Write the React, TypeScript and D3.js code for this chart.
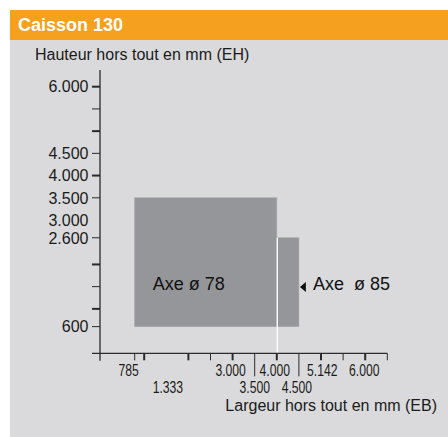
import React from "react";
import * as d3 from "d3";

const title = "Caisson 130";
const yAxisTitle = "Hauteur hors tout en mm (EH)";
const xAxisTitle = "Largeur hors tout en mm (EB)";

const zoneNames = ["Axe ø 78", "Axe  ø 85"];
const zoneXStart = [785, 4000];
const zoneXEnd = [4000, 4500];
const zoneYStart = [600, 600];
const zoneYEnd = [3500, 2600];

const yMajorTicks = [1000, 2000, 4000, 5000, 6000];
const yMinorTicks = [600, 1500, 2600, 3500, 4500, 5500];
const yTickLabels = [6000, 4500, 4000, 3500, 3000, 2600, 600];

const xMajorTicks = [1000, 2000, 3000, 4000, 5000, 6000];
const xMinorTicks = [785, 2500, 5500, 6500];
const xLongTicks = [3500, 4500];
const xLabelsRow1 = [785, 3000, 4000, 5142, 6000];
const xLabelsRow2 = [1333, 3500, 4500];

const fmt = (v: number) => (v >= 1000 ? d3.format(",")(v).replace(",", ".") : String(v));

export default function App() {
  const W = 448, H = 437;
  const x = d3.scaleLinear().domain([0, 6500]).range([100, 387.3]);
  const y = d3.scaleLinear().domain([0, 6000]).range([353.3, 86.7]);
  const axisColor = "#2a2a2a";
  const font = "'Liberation Sans', Arial, Helvetica, sans-serif";
  const labelDx: Record<number, number> = { 785: -6, 1333: 9, 3000: -2, 4000: -2, 5142: -5, 6000: -1, 3500: 0, 4500: -2 };

  const xLabel = (v: number, baseline: number) => {
    const cx = x(v) + (labelDx[v] ?? 0);
    return (
      <g key={`xl${v}-${baseline}`} transform={`translate(${cx},${baseline}) scale(0.76,1)`}>
        <text textAnchor="middle" fontSize={16} fill="#1a1a1a" fontFamily={font}>{fmt(v)}</text>
      </g>
    );
  };

  return (
    <svg width={W} height={H} style={{ position: "absolute", left: 0, top: 0 }}>
      <rect x={0} y={0} width={W} height={H} fill="#ffffff" />
      <rect x={10} y={10} width={W - 10} height={30} fill="#F5A01E" />
      <rect x={10} y={40} width={W - 10} height={H - 40} fill="#DADADC" />
      <text x={18} y={31} fill="#ffffff" fontWeight="bold" fontSize={18} fontFamily={font}>{title}</text>
      <text x={35} y={60} fill="#1a1a1a" fontSize={16} fontFamily={font}>{yAxisTitle}</text>
      <text x={437} y={411} textAnchor="end" fill="#1a1a1a" fontSize={16} fontFamily={font}>{xAxisTitle}</text>

      {zoneNames.map((n, i) => (
        <rect key={n} x={x(zoneXStart[i])} y={y(zoneYEnd[i])} width={x(zoneXEnd[i]) - x(zoneXStart[i])}
          height={y(zoneYStart[i]) - y(zoneYEnd[i])} fill="#959699" stroke="#a6a7aa" strokeWidth={0.6} />
      ))}
      <line x1={x(4000) + 0.5} x2={x(4000) + 0.5} y1={y(2600)} y2={y(0)} stroke="#ffffff" strokeWidth={1.3} />

      <text x={x(zoneXStart[0]) + 18} y={290} fontSize={18} fill="#111" fontFamily={font} style={{ whiteSpace: "pre" }}>{zoneNames[0]}</text>
      <path d={`M${x(zoneXEnd[1]) + 1},${287} l6,-5 v10 z`} fill="#111" />
      <text x={x(zoneXEnd[1]) + 14} y={290} fontSize={18} fill="#111" fontFamily={font} style={{ whiteSpace: "pre" }}>{zoneNames[1]}</text>

      <line x1={x(0)} x2={x(0)} y1={70} y2={y(0) + 7.5} stroke={axisColor} strokeWidth={1.3} />
      <line x1={x(0) - 8} x2={x(6500)} y1={y(0)} y2={y(0)} stroke={axisColor} strokeWidth={1.3} />

      {yMajorTicks.map((v) => (
        <line key={`ym${v}`} x1={x(0) - 8} x2={x(0)} y1={y(v)} y2={y(v)} stroke={axisColor} strokeWidth={2} />
      ))}
      {yMinorTicks.map((v) => (
        <line key={`yn${v}`} x1={x(0) - 8} x2={x(0)} y1={y(v)} y2={y(v)} stroke={axisColor} strokeWidth={1} />
      ))}
      {yTickLabels.map((v) => (
        <text key={`yl${v}`} x={88.5} y={y(v)} dy="0.36em" textAnchor="end" fontSize={16} fill="#1a1a1a" fontFamily={font}>{fmt(v)}</text>
      ))}

      {xMajorTicks.map((v) => (
        <line key={`xm${v}`} x1={x(v)} x2={x(v)} y1={y(0)} y2={y(0) + 7} stroke={axisColor} strokeWidth={2} />
      ))}
      {xMinorTicks.map((v) => (
        <line key={`xn${v}`} x1={x(v)} x2={x(v)} y1={y(0)} y2={y(0) + 7} stroke={axisColor} strokeWidth={1} />
      ))}
      {xLongTicks.map((v) => (
        <line key={`xg${v}`} x1={x(v)} x2={x(v)} y1={y(0)} y2={y(0) + 23} stroke={axisColor} strokeWidth={1} />
      ))}
      {xLabelsRow1.map((v) => xLabel(v, 376))}
      {xLabelsRow2.map((v) => xLabel(v, 393))}
    </svg>
  );
}
